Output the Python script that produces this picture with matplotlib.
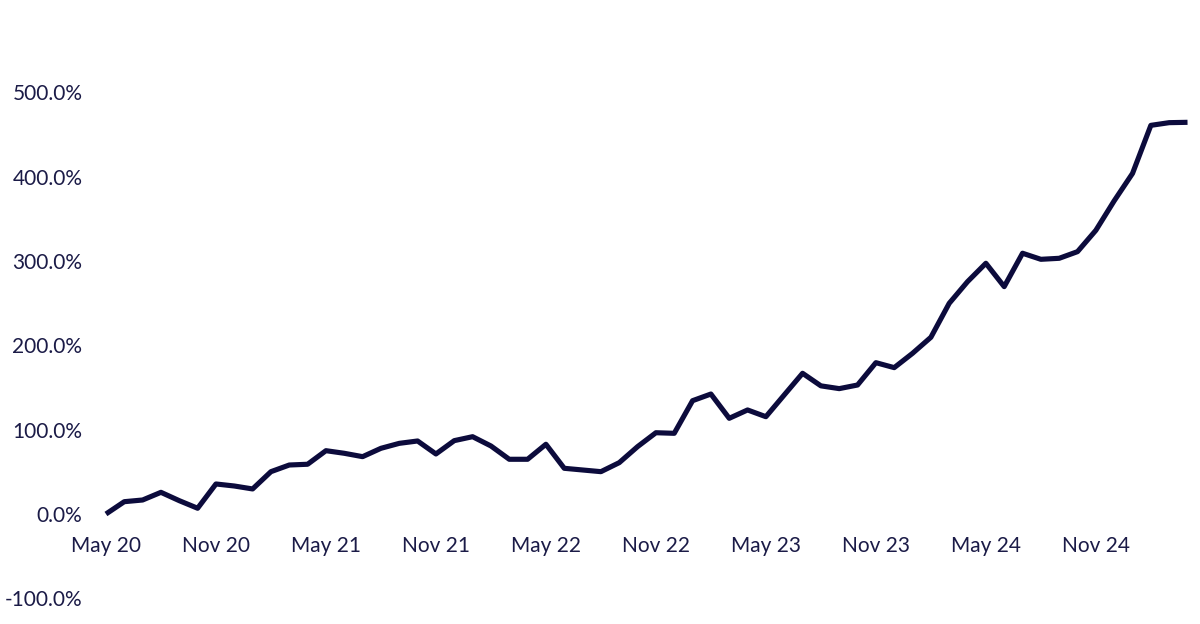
import numpy as np
import matplotlib
matplotlib.use("Agg")
import matplotlib.pyplot as plt
from matplotlib.ticker import FuncFormatter

plt.rcParams['font.family'] = ['Lato', 'DejaVu Sans']

# monthly cumulative return, May 20 .. Apr 25 (in %)
months = ['May 20', 'Jun 20', 'Jul 20', 'Aug 20', 'Sep 20', 'Oct 20', 'Nov 20', 'Dec 20',
          'Jan 21', 'Feb 21', 'Mar 21', 'Apr 21', 'May 21', 'Jun 21', 'Jul 21', 'Aug 21',
          'Sep 21', 'Oct 21', 'Nov 21', 'Dec 21', 'Jan 22', 'Feb 22', 'Mar 22', 'Apr 22',
          'May 22', 'Jun 22', 'Jul 22', 'Aug 22', 'Sep 22', 'Oct 22', 'Nov 22', 'Dec 22',
          'Jan 23', 'Feb 23', 'Mar 23', 'Apr 23', 'May 23', 'Jun 23', 'Jul 23', 'Aug 23',
          'Sep 23', 'Oct 23', 'Nov 23', 'Dec 23', 'Jan 24', 'Feb 24', 'Mar 24', 'Apr 24',
          'May 24', 'Jun 24', 'Jul 24', 'Aug 24', 'Sep 24', 'Oct 24', 'Nov 24', 'Dec 24',
          'Jan 25', 'Feb 25', 'Mar 25', 'Apr 25']
returns = [0.0, 14.6, 16.6, 25.7, 15.8, 6.8, 35.6, 33.2, 29.7, 50.2,
           58.1, 59.0, 75.1, 72.0, 68.0, 77.9, 83.8, 86.6, 71.2, 87.0,
           91.7, 80.7, 64.9, 64.9, 82.7, 54.2, 52.2, 50.2, 60.9, 79.9,
           96.4, 95.7, 134.4, 142.3, 113.5, 123.4, 115.4, 141.2, 166.9, 152.0,
           148.7, 153.0, 179.5, 173.6, 190.6, 209.6, 249.9, 275.6, 297.4, 269.7,
           309.3, 302.1, 303.3, 311.2, 336.5, 371.5, 404.0, 461.0, 464.2, 464.6]
y_ticks = [-100, 0, 100, 200, 300, 400, 500]

line_color = '#0c0b3c'
text_color = '#1b1b47'

fig = plt.figure(figsize=(12, 6.24), dpi=100)
ax = fig.add_axes([0.0883, 0.0412, 0.9013, 0.9457])

x = np.arange(len(returns))
ax.plot(x, returns, color=line_color, linewidth=3.7,
        solid_joinstyle='round', solid_capstyle='butt', clip_on=False)

ax.set_xlim(0, len(returns) - 1)
ax.set_ylim(-100, 600)

ax.set_xticks(x[::6])
ax.set_xticklabels(months[::6])
ax.set_yticks(y_ticks)
ax.yaxis.set_major_formatter(FuncFormatter(lambda v, p: '{:.1f}%'.format(v)))

for s in ax.spines.values():
    s.set_visible(False)
ax.spines['bottom'].set_position(('data', 0))

ax.tick_params(axis='x', length=0, pad=15.5, labelsize=15, labelcolor=text_color)
ax.tick_params(axis='y', length=0, pad=17, labelsize=15, labelcolor=text_color)

fig.savefig('out.png', dpi=100, facecolor='white')
